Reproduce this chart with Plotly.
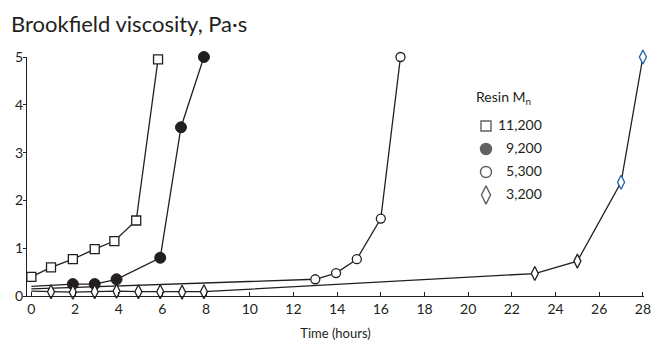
import plotly.graph_objects as go

# ---- data ----
t_11200 = [0, 0.9, 1.9, 2.9, 3.8, 4.8, 5.8]
v_11200 = [0.4, 0.6, 0.77, 0.98, 1.15, 1.58, 4.95]

t_9200 = [0, 1.9, 2.9, 3.9, 5.9, 6.85, 7.9]
v_9200 = [0.2, 0.25, 0.25, 0.35, 0.8, 3.53, 5.0]

t_5300 = [0, 13.0, 13.95, 14.9, 16.0, 16.9]
v_5300 = [0.15, 0.35, 0.48, 0.77, 1.62, 5.0]

t_3200 = [0, 0.9, 1.9, 2.9, 3.9, 4.9, 5.9, 6.9, 7.9, 23.05, 25.0, 27.0, 28.0]
v_3200 = [0.1, 0.09, 0.08, 0.09, 0.1, 0.09, 0.09, 0.08, 0.09, 0.47, 0.73, 2.38, 5.0]

labels = ["11,200", "\u20079,200", "\u20075,300", "\u20073,200"]
x_ticks = list(range(0, 29, 2))
y_ticks = [0, 1, 2, 3, 4, 5]

FONT = "Lato"
BLACK = "#231f20"
BLUE = "#1d5fa8"

L, R, T, B = 27, 8, 57, 47
W, H = 652, 343

fig = go.Figure()

# lines
for t, v in [(t_11200, v_11200), (t_9200, v_9200), (t_5300, v_5300), (t_3200, v_3200)]:
    fig.add_trace(go.Scatter(x=t, y=v, mode="lines", line=dict(color=BLACK, width=1.3),
                             showlegend=False, hoverinfo="skip", cliponaxis=False))

# markers
fig.add_trace(go.Scatter(x=t_11200, y=v_11200, mode="markers", name=labels[0], cliponaxis=False,
                         showlegend=False,
                         marker=dict(symbol="square", size=9, color="white",
                                     line=dict(color=BLACK, width=1.3))))
fig.add_trace(go.Scatter(x=t_9200[1:], y=v_9200[1:], mode="markers", name=labels[1], cliponaxis=False,
                         showlegend=False,
                         marker=dict(symbol="circle", size=11, color=BLACK,
                                     line=dict(color=BLACK, width=1))))
fig.add_trace(go.Scatter(x=t_5300[1:], y=v_5300[1:], mode="markers", name=labels[2], cliponaxis=False,
                         showlegend=False,
                         marker=dict(symbol="circle", size=9, color="white",
                                     line=dict(color=BLACK, width=1.3))))
n3 = len(t_3200) - 1
dia_colors = [BLACK] * (n3 - 2) + [BLUE, BLUE]
fig.add_trace(go.Scatter(x=t_3200[1:], y=v_3200[1:], mode="markers", name=labels[3], cliponaxis=False,
                         showlegend=False,
                         marker=dict(symbol="diamond-tall", size=10, color="white",
                                     line=dict(color=dia_colors, width=1.3))))

# legend key (drawn on a pixel-scaled overlay axis)
leg_mx = [486, 486, 486, 486]
leg_tx = [498, 498, 498, 498]
leg_y = [126, 149, 172, 195]
fig.add_trace(go.Scatter(
    x=leg_mx, y=leg_y, xaxis="x2", yaxis="y2", mode="markers", cliponaxis=False,
    marker=dict(symbol=["square", "circle", "circle", "diamond-tall"],
                size=[10, 11, 11, 13],
                color=["white", BLACK, "white", "white"],
                line=dict(color=BLACK, width=1.4)),
    showlegend=False, hoverinfo="skip"))
fig.add_trace(go.Scatter(
    x=leg_tx, y=leg_y, xaxis="x2", yaxis="y2", mode="text", cliponaxis=False,
    text=labels, textposition="middle right",
    textfont=dict(size=14, family=FONT, color=BLACK),
    showlegend=False, hoverinfo="skip"))

fig.update_layout(
    width=W, height=H,
    margin=dict(l=L, r=R, t=T, b=B),
    paper_bgcolor="white", plot_bgcolor="rgba(0,0,0,0)",
    font=dict(family=FONT, color=BLACK, size=13),
    showlegend=False,
    xaxis=dict(range=[-0.2, 28.05], tickvals=x_ticks, showgrid=False, zeroline=False,
               showline=True, linecolor=BLACK, linewidth=1.3, automargin=False,
               ticks="inside", ticklen=4, tickcolor=BLACK, tickwidth=1,
               tickfont=dict(size=14), ticklabeloverflow="allow",
               title=dict(text="Time (hours)", font=dict(size=13), standoff=12)),
    yaxis=dict(range=[0, 5], tickvals=y_ticks, showgrid=False, zeroline=False,
               showline=True, linecolor=BLACK, linewidth=1.3, automargin=False,
               ticks="outside", ticklen=3, tickcolor=BLACK, tickwidth=1,
               ticklabelstandoff=-3,
               tickfont=dict(size=14)),
    xaxis2=dict(overlaying="x", anchor="y2", range=[L, W - R], visible=False,
                fixedrange=True, automargin=False),
    yaxis2=dict(overlaying="y", anchor="x2", range=[H - B, T], visible=False,
                fixedrange=True, automargin=False),
    annotations=[
        dict(text="Brookfield viscosity, Pa·s", xref="paper", yref="paper",
             x=(9 - L) / (W - L - R), y=1 + (T - 24) / (H - T - B), xanchor="left", yanchor="middle",
             showarrow=False, font=dict(size=22, family=FONT, color=BLACK)),
        dict(text="Resin M<sub>n</sub>", xref="paper", yref="paper",
             x=(474 - L) / (W - L - R), y=(H - B - 97) / (H - T - B), xanchor="left", yanchor="middle",
             showarrow=False, font=dict(size=14, family=FONT, color=BLACK)),
    ],
)

fig.write_html("out.html")
